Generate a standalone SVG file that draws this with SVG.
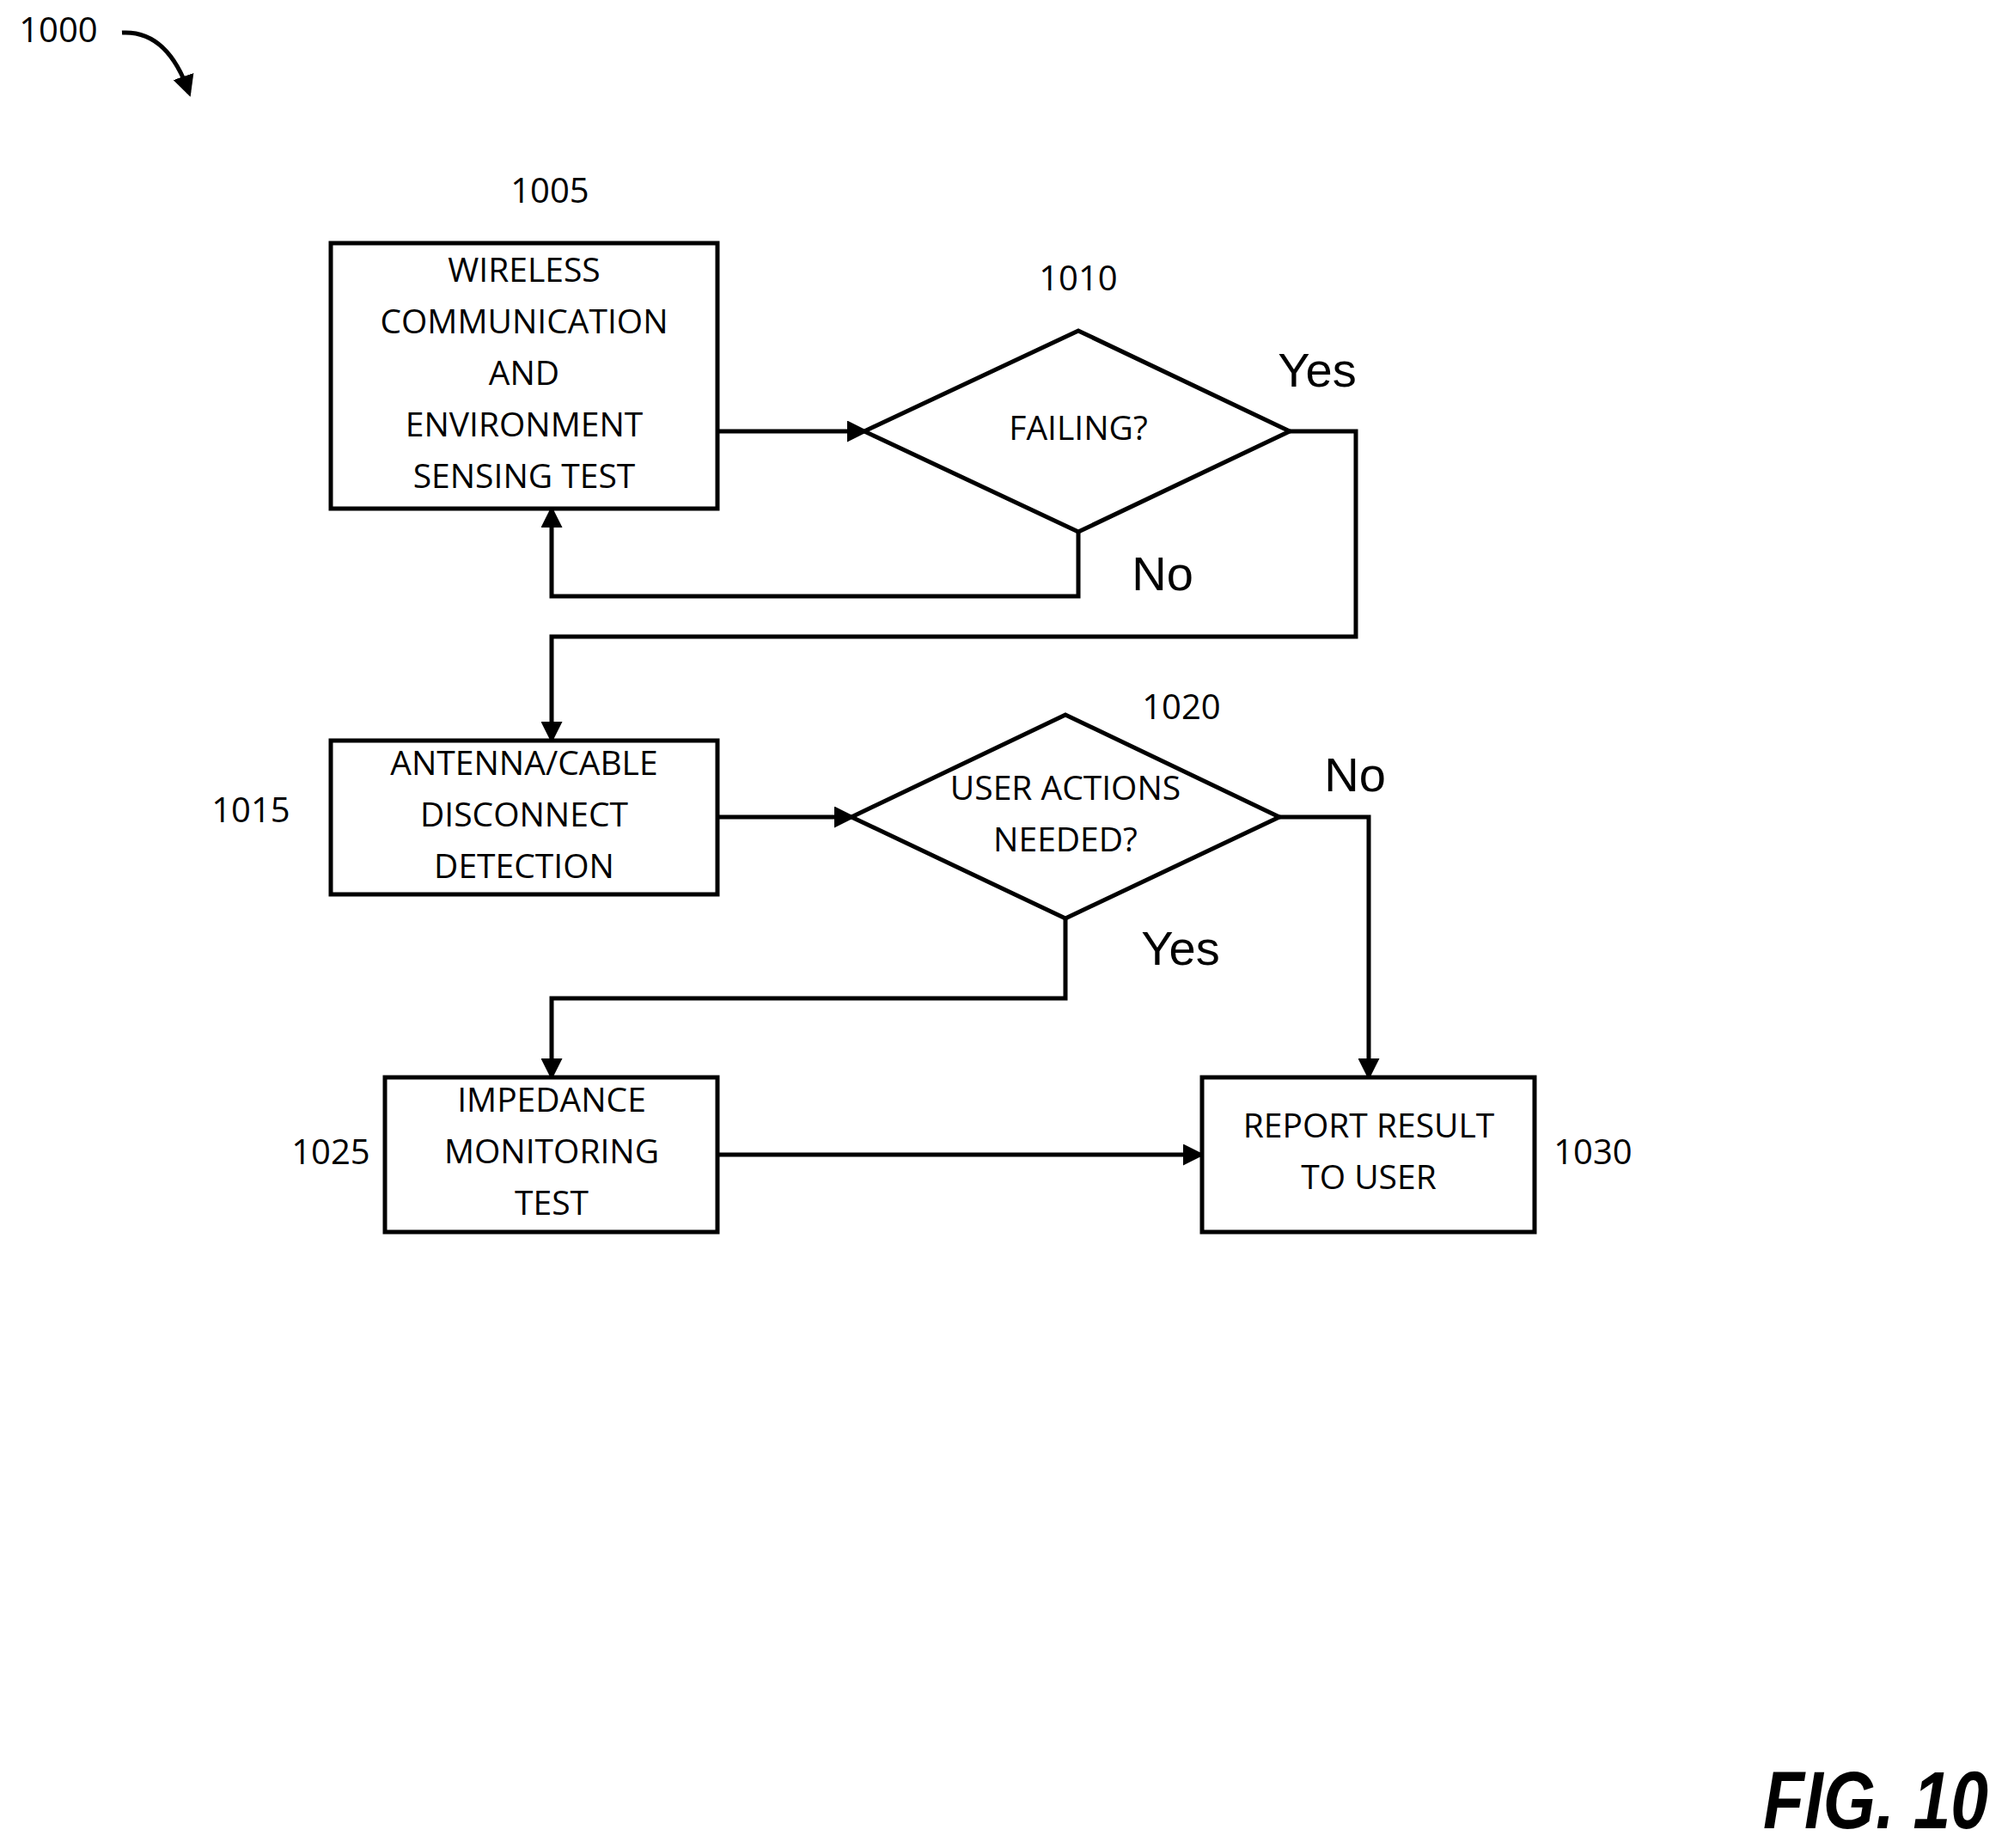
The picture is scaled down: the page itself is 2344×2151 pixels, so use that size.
<svg xmlns="http://www.w3.org/2000/svg" width="2344" height="2151" viewBox="0 0 2344 2151">
<style>
.n{fill:#fff;stroke:#000;stroke-width:5}
.t{font-family:"Open Sans","DejaVu Sans",sans-serif;font-size:39px;text-anchor:middle;dominant-baseline:middle;fill:#000}
.l{font-family:"Open Sans","DejaVu Sans",sans-serif;font-size:40px;text-anchor:middle;dominant-baseline:middle;fill:#000}
.y{font-family:"Liberation Sans",Arial,sans-serif;font-size:56px;text-anchor:middle;dominant-baseline:middle;fill:#000}
.c{fill:none;stroke:#000;stroke-width:5}
</style>
<defs><marker id="a" markerWidth="5" markerHeight="5" refX="4" refY="2.5" orient="auto" markerUnits="strokeWidth"><path d="M0,0 L5,2.5 L0,5 z" fill="#000"/></marker></defs>
<text class="l" x="68" y="38">1000</text>
<path class="c" d="M142,38 Q195,35 220,108" stroke-width="3" marker-end="url(#a)"/>
<g id="connectors">
<path class="c" d="M835,502 H1006" marker-end="url(#a)"/>
<path class="c" d="M1255,619 V694 H642 V594" marker-end="url(#a)"/>
<path class="c" d="M1501,502 H1578 V741 H642 V860" marker-end="url(#a)"/>
<path class="c" d="M835,951 H991" marker-end="url(#a)"/>
<path class="c" d="M1489,951 H1593 V1252" marker-end="url(#a)"/>
<path class="c" d="M1240,1069 V1162 H642 V1252" marker-end="url(#a)"/>
<path class="c" d="M835,1344 H1397" marker-end="url(#a)"/>
</g>
<g id="n1005"><rect class="n" x="385" y="283" width="450" height="309"/>
<text class="t" x="610" y="318">WIRELESS</text><text class="t" x="610" y="378">COMMUNICATION</text><text class="t" x="610" y="438">AND</text><text class="t" x="610" y="498">ENVIRONMENT</text><text class="t" x="610" y="558">SENSING TEST</text>
<text class="l" x="640" y="225">1005</text></g>
<g id="n1010"><path class="n" d="M1006,502 L1255,385 L1501,502 L1255,619 Z"/>
<text class="t" x="1255" y="502">FAILING?</text><text class="l" x="1255" y="327">1010</text>
<text class="y" x="1533" y="435">Yes</text><text class="y" x="1353" y="672">No</text></g>
<g id="n1015"><rect class="n" x="385" y="862" width="450" height="179"/>
<text class="t" x="610" y="892">ANTENNA/CABLE</text><text class="t" x="610" y="952">DISCONNECT</text><text class="t" x="610" y="1012">DETECTION</text>
<text class="l" x="292" y="946">1015</text></g>
<g id="n1020"><path class="n" d="M991,951 L1240,832 L1489,951 L1240,1069 Z"/>
<text class="t" x="1240" y="921">USER ACTIONS</text><text class="t" x="1240" y="981">NEEDED?</text>
<text class="l" x="1375" y="826">1020</text>
<text class="y" x="1577" y="906">No</text><text class="y" x="1374" y="1108">Yes</text></g>
<g id="n1025"><rect class="n" x="448" y="1254" width="387" height="180"/>
<text class="t" x="642" y="1284">IMPEDANCE</text><text class="t" x="642" y="1344">MONITORING</text><text class="t" x="642" y="1404">TEST</text>
<text class="l" x="385" y="1344">1025</text></g>
<g id="n1030"><rect class="n" x="1399" y="1254" width="387" height="180"/>
<text class="t" x="1593" y="1314">REPORT RESULT</text><text class="t" x="1593" y="1374">TO USER</text>
<text class="l" x="1854" y="1344">1030</text></g>
<text x="2052" y="2128" textLength="262" lengthAdjust="spacingAndGlyphs" font-family="Liberation Sans,Arial,sans-serif" font-size="94" font-weight="bold" font-style="italic">FIG. 10</text>
</svg>
